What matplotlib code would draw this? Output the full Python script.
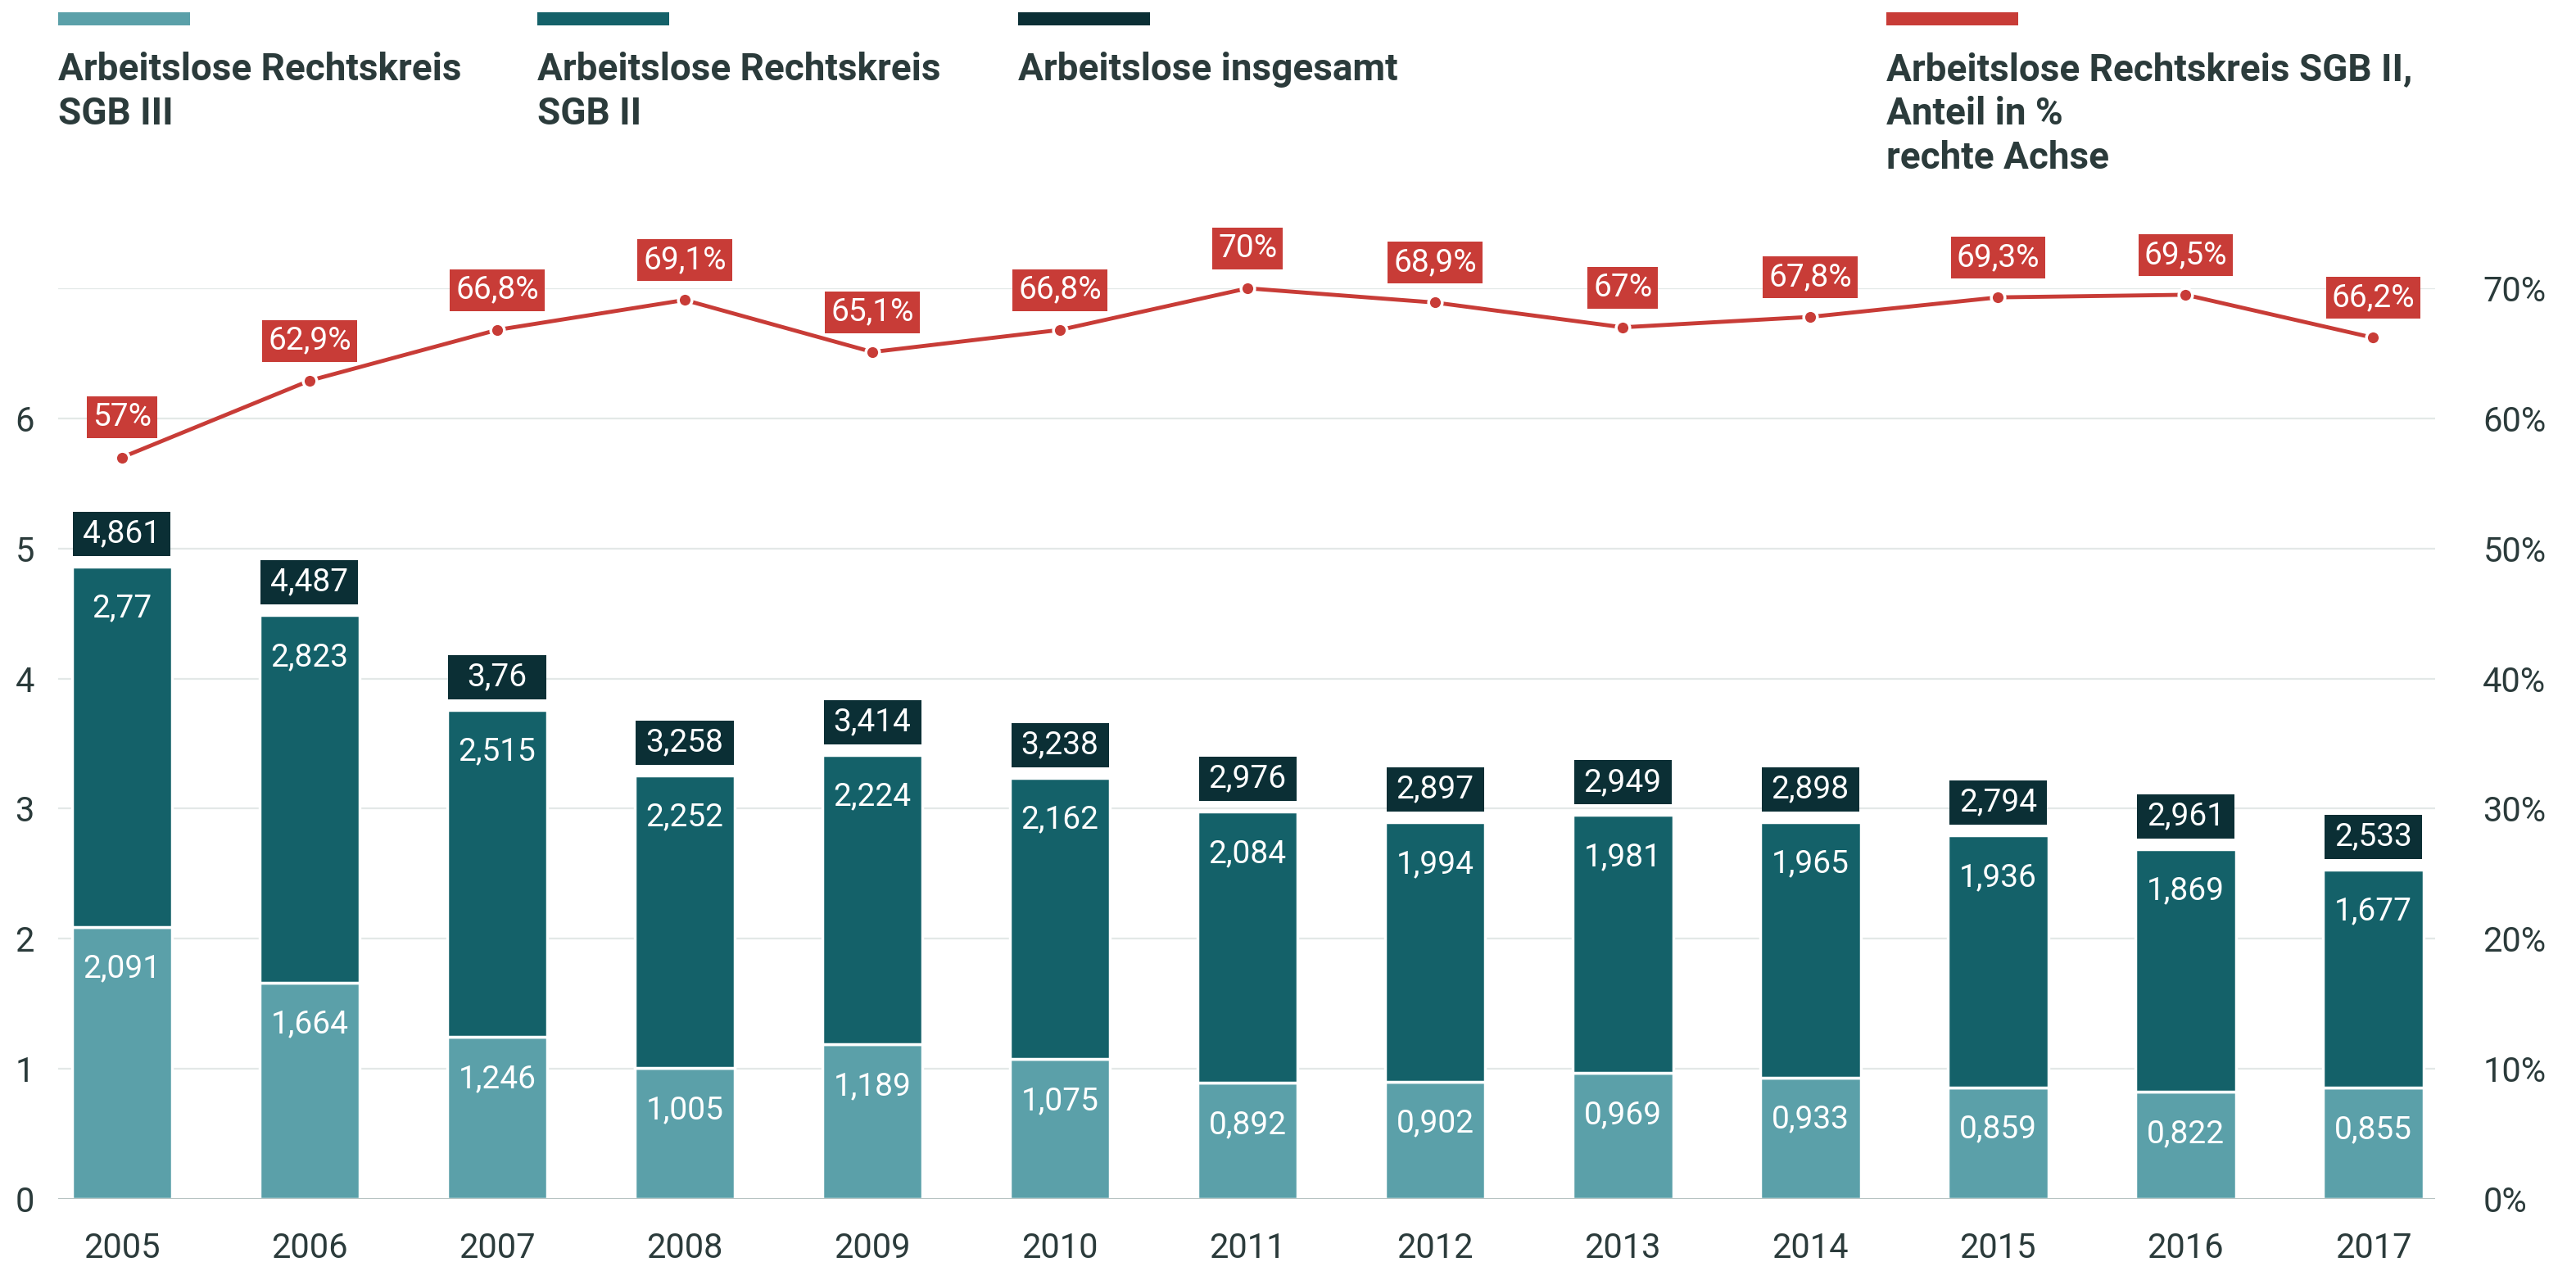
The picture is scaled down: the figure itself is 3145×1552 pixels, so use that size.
import numpy as np
import matplotlib as mpl

mpl.use("Agg")
from matplotlib import pyplot as plt
from matplotlib.patches import Rectangle

plt.rcParams['font.family'] = ['Roboto', 'DejaVu Sans']

# data (millions / percent)
years = ['2005', '2006', '2007', '2008', '2009', '2010', '2011',
         '2012', '2013', '2014', '2015', '2016', '2017']
sgb3 = [2.091, 1.664, 1.246, 1.005, 1.189, 1.075, 0.892,
        0.902, 0.969, 0.933, 0.859, 0.822, 0.855]
sgb2 = [2.77, 2.823, 2.515, 2.252, 2.224, 2.162, 2.084,
        1.994, 1.981, 1.965, 1.936, 1.869, 1.677]
total_labels = ['4,861', '4,487', '3,76', '3,258', '3,414', '3,238', '2,976',
                '2,897', '2,949', '2,898', '2,794', '2,961', '2,533']
share = [57, 62.9, 66.8, 69.1, 65.1, 66.8, 70, 68.9, 67, 67.8, 69.3, 69.5, 66.2]

legend_labels = [["Arbeitslose Rechtskreis", "SGB III"],
                 ["Arbeitslose Rechtskreis", "SGB II"],
                 ["Arbeitslose insgesamt"],
                 ["Arbeitslose Rechtskreis SGB II,", "Anteil in %", "rechte Achse"]]

# colours
c_light = '#5ba0a9'
c_dark = '#146169'
c_total = '#0b2f35'
c_red = '#c83c37'
c_text = '#2b3b3b'
c_grid = '#e3e8e7'


def de(v):
    return f"{v:g}".replace('.', ',')


W, H = 3145, 1552
fig = plt.figure(figsize=(W / 100, H / 100), dpi=100)
ax_l, ax_r, ax_b, ax_t = 71, 2973, 1464, 352
ax = fig.add_axes([ax_l / W, (H - ax_b) / H, (ax_r - ax_l) / W, (ax_b - ax_t) / H])
px_per_unit = (ax_b - ax_t) / 7.0

x = np.arange(len(years))
sgb3 = np.array(sgb3)
sgb2 = np.array(sgb2)
stack_top = sgb3 + sgb2

bw = 0.535
ax.bar(x, sgb3, width=bw, color=c_light, edgecolor='white', linewidth=2.5, zorder=3)
ax.bar(x, sgb2, bottom=sgb3, width=bw, color=c_dark, edgecolor='white', linewidth=2.5, zorder=3)

for xi, v in zip(x, sgb3):
    ax.annotate(de(v), (xi, v), xytext=(0, -37), textcoords='offset points',
                ha='center', va='center', color='white', fontsize=28, zorder=6)
for xi, b, v in zip(x, sgb3, sgb2):
    ax.annotate(de(v), (xi, b + v), xytext=(0, -37), textcoords='offset points',
                ha='center', va='center', color='white', fontsize=28, zorder=6)

# total label boxes sitting on the stack
box_h = 54 / px_per_unit
gap = 13 / px_per_unit
ax.bar(x, box_h, bottom=stack_top + gap, width=0.52, color=c_total, linewidth=0, zorder=3)
for xi, t, lab in zip(x, stack_top, total_labels):
    ax.text(xi, t + gap + box_h / 2, lab, ha='center', va='center',
            color='white', fontsize=28, zorder=6)

ax.set_xlim(-0.34, 12.33)
ax.set_ylim(0, 7)
ax.set_yticks(range(8))
ax.set_yticklabels([str(i) for i in range(7)] + [''])
ax.set_xticks(x)
ax.set_xticklabels(years)
ax.tick_params(axis='y', length=0, pad=21, labelsize=30, labelcolor=c_text)
ax.tick_params(axis='x', length=0, pad=29, labelsize=30, labelcolor=c_text)
ax.yaxis.grid(True, color=c_grid, lw=1.6)
ax.set_axisbelow(True)
for s in ax.spines.values():
    s.set_visible(False)
ax.axhline(0, color='#b7c3c2', lw=2.2, zorder=4)

# share line on right axis
ax2 = ax.twinx()
ax2.set_ylim(0, 70)
ax2.set_yticks(range(0, 71, 10))
ax2.set_yticklabels([f"{v}%" for v in range(0, 71, 10)])
ax2.tick_params(axis='y', length=0, pad=42, labelsize=30, labelcolor=c_text)
for s in ax2.spines.values():
    s.set_visible(False)
ax2.plot(x, share, color=c_red, lw=3.5, marker='o', ms=12, mfc=c_red,
         mec='white', mew=2.5, zorder=5, clip_on=False)
for xi, v in zip(x, share):
    ax2.annotate(de(v) + '%', (xi, v), xytext=(0, 35), textcoords='offset points',
                 ha='center', va='center', color='white', fontsize=28,
                 bbox=dict(boxstyle='square,pad=0.18', fc=c_red, ec='none'),
                 annotation_clip=False, zorder=7)

# legend on top
leg_x = [71, 656, 1243, 2303]
leg_c = [c_light, c_dark, c_total, c_red]
for lx, col, lines in zip(leg_x, leg_c, legend_labels):
    fig.add_artist(Rectangle((lx / W, 1 - 31 / H), 161 / W, 16 / H,
                             transform=fig.transFigure, color=col, lw=0))
    for i, line in enumerate(lines):
        fig.text(lx / W, 1 - (98 + 54 * i) / H, line, ha='left', va='baseline',
                 fontsize=33, fontweight='bold', color=c_text)

fig.savefig('out.png', dpi=100)
